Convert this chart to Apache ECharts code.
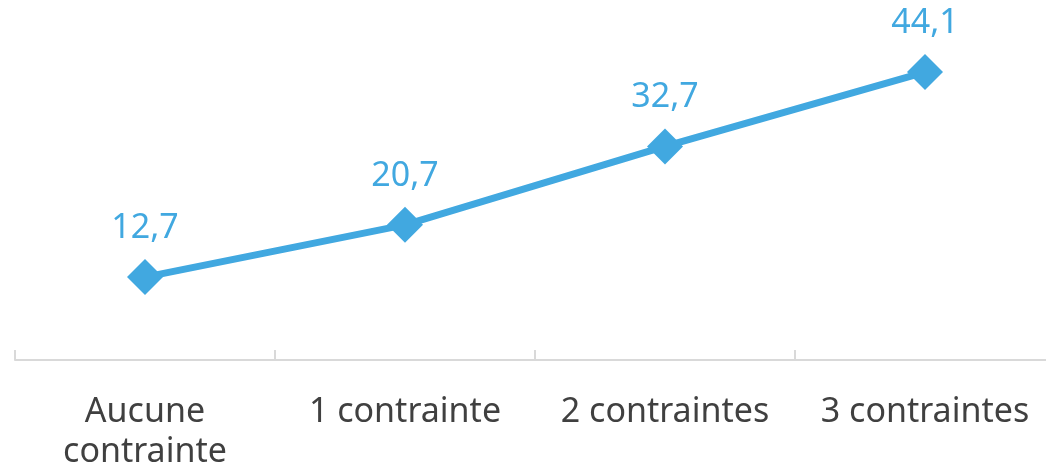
<!DOCTYPE html>
<html>
<head>
<meta charset="utf-8">
<script src="https://cdn.jsdelivr.net/npm/echarts@6/dist/echarts.min.js"></script>
<style>
html, body { margin: 0; padding: 0; background: #fff; }
#main { width: 1046px; height: 468px; }
</style>
</head>
<body>
<div id="main"></div>
<script>
// catégories et valeurs (%)
var categories = ['Aucune\ncontrainte', '1 contrainte', '2 contraintes', '3 contraintes'];
var values = [12.7, 20.7, 32.7, 44.1];

var blue = '#41A8E0';
var chart = echarts.init(document.getElementById('main'));
chart.setOption({
    animation: false,
    textStyle: { fontFamily: 'Noto Sans' },
    grid: { left: 15, width: 1040, top: 33.5, bottom: 108, outerBoundsMode: 'none', containLabel: false },
    xAxis: {
        type: 'category',
        data: categories,
        axisLine: { lineStyle: { color: '#d9d9d9', width: 2 } },
        axisTick: { show: true, inside: true, length: 10, lineStyle: { color: '#d9d9d9', width: 2 } },
        axisLabel: {
            interval: 0,
            color: '#404040',
            fontSize: 34,
            lineHeight: 40,
            margin: 32
        }
    },
    yAxis: {
        type: 'value',
        min: 0,
        max: 50,
        show: false
    },
    series: [{
        type: 'line',
        data: values,
        symbol: 'diamond',
        symbolSize: 36,
        lineStyle: { color: blue, width: 7 },
        itemStyle: { color: blue },
        label: {
            show: true,
            position: 'top',
            distance: 14,
            color: blue,
            fontSize: 34,
            formatter: function (p) { return String(p.value).replace('.', ','); }
        }
    }]
});
</script>
</body>
</html>
